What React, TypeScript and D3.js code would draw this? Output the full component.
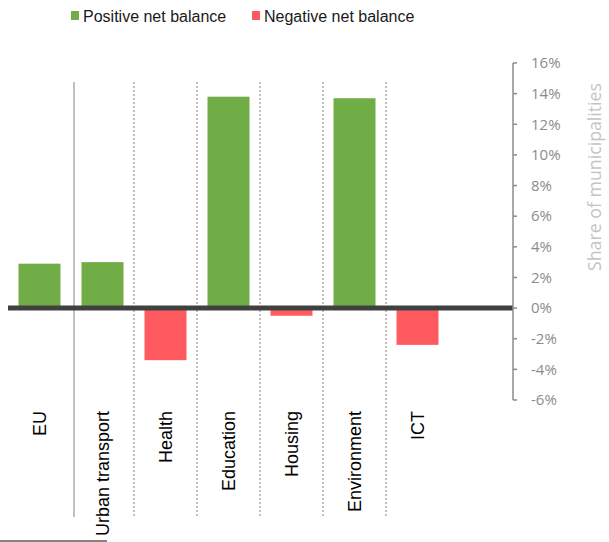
import React from "react";
import * as d3 from "d3";

const categories = ["EU", "Urban transport", "Health", "Education", "Housing", "Environment", "ICT"];
const values = [2.9, 3.0, -3.4, 13.8, -0.5, 13.7, -2.4];
const yTicks = [-6, -4, -2, 0, 2, 4, 6, 8, 10, 12, 14, 16];
const legendItems = ["Positive net balance", "Negative net balance"];

const GREEN = "#70AD47";
const RED = "#FF5A5F";

export default function App() {
  const W = 609, H = 542;
  const x = d3.scaleBand<string>().domain(categories).range([8, 449]).paddingInner(1 / 3).paddingOuter(1 / 6);
  const y = d3.scaleLinear().domain([-6, 16]).range([400, 63]);
  const step = x.step();
  const axisX = 513;
  const font = "'Liberation Sans', Arial, sans-serif";
  const axisFont = "'Open Sans', 'Noto Sans', sans-serif";

  return (
    <svg width={W} height={H} style={{ position: "absolute", left: 0, top: 0, background: "#fff" }}>
      {/* legend */}
      <g fontFamily={font} fontSize={16} fill="#1a1a1a">
        <rect x={71} y={11} width={8} height={9} fill={GREEN} />
        <text x={83} y={21.5}>{legendItems[0]}</text>
        <rect x={252} y={11} width={8} height={9} fill={RED} />
        <text x={264} y={21.5}>{legendItems[1]}</text>
      </g>

      {/* separators */}
      {categories.slice(1).map((c, i) => {
        const sx = Math.round((x(c) as number) - (step - x.bandwidth()) / 2) + (i === 0 ? 3 : 0);
        return (
          <line key={c} x1={sx} x2={sx} y1={82} y2={517}
            stroke="#c0c0c0" strokeWidth={2}
            strokeDasharray={i === 0 ? undefined : "2,2"} />
        );
      })}

      {/* bars */}
      {values.map((v, i) => (
        <rect key={categories[i]} x={x(categories[i])} width={x.bandwidth()}
          y={Math.min(y(v), y(0))} height={Math.abs(y(v) - y(0))}
          fill={v >= 0 ? GREEN : RED} />
      ))}

      {/* zero line */}
      <line x1={8} x2={axisX} y1={y(0)} y2={y(0)} stroke="#404040" strokeWidth={5} />

      {/* right axis */}
      <line x1={axisX} x2={axisX} y1={y(16)} y2={y(-6)} stroke="#8c8c8c" strokeWidth={1.5} />
      {yTicks.map(t => (
        <g key={t}>
          <line x1={axisX} x2={axisX + 4} y1={y(t)} y2={y(t)} stroke="#8c8c8c" strokeWidth={1.5} />
          <text x={531} y={y(t)} dy="0.35em" fontFamily={axisFont} fontSize={15} fill="#8c8c8c">{t}%</text>
        </g>
      ))}
      <text transform={`translate(595,177) rotate(-90)`} textAnchor="middle" dy="0.35em"
        fontFamily={axisFont} fontSize={18} fill="#c4c4c4" textLength={188} lengthAdjust="spacingAndGlyphs">Share of municipalities</text>

      {/* category labels */}
      {categories.map(c => (
        <text key={c} transform={`translate(${(x(c) as number) + x.bandwidth() / 2},411) rotate(-90)`}
          textAnchor="end" dy="0.35em" fontFamily={font} fontSize={18} fill="#000">{c}</text>
      ))}

      {/* bottom border fragment */}
      <line x1={0} x2={107} y1={541} y2={541} stroke="#595959" strokeWidth={1.5} />
    </svg>
  );
}
